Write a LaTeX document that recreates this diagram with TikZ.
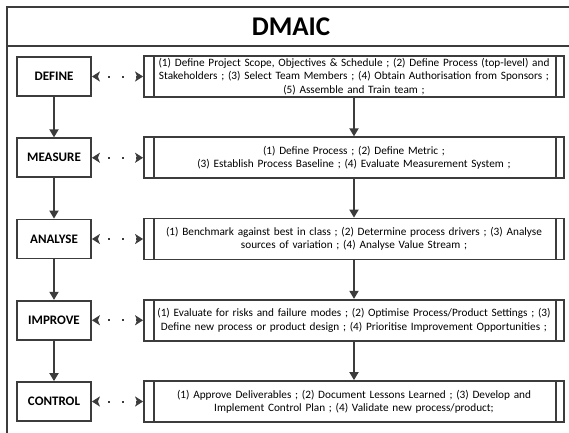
\documentclass[tikz,border=0pt]{standalone}
\usepackage{fontspec}
\setmainfont{Carlito}
\usetikzlibrary{arrows.meta}
\definecolor{ln}{HTML}{3C3C3C}
\begin{document}
\begin{tikzpicture}[x=1pt,y=-1pt,
  stagebox/.style={draw=ln, line width=1.8pt, minimum width=74pt, minimum height=39pt, font=\fontsize{13}{15}\selectfont\bfseries, inner sep=0pt},
  procbox/.style={draw=ln, line width=1.8pt, minimum width=420pt, minimum height=41pt, text width=400pt, align=center, font=\fontsize{11.25}{13.2}\selectfont, inner sep=0pt},
  procbar/.style={draw=ln, line width=1.8pt},
  flow/.style={draw=ln, line width=1.8pt, -{Triangle[length=8pt,width=9pt]}},
  dotlink/.style={draw=ln, line width=2pt, {Stealth[length=8pt,width=10pt,inset=2pt]}-{Stealth[length=8pt,width=10pt,inset=2pt]}, dash pattern=on 2pt off 12pt, dash phase=3pt},
  frame/.style={draw=ln, line width=1.8pt},
]
\useasboundingbox (0,0) rectangle (569,432);
\clip (0,0) rectangle (569,432);
\draw[frame] (7,7) rectangle (590,450);
\draw[frame] (7,46) -- (590,46);
\node[font=\fontsize{27}{30}\selectfont\bfseries] (title) at (291,26.5) {DMAIC};

\node[stagebox] (s1) at (54,76.5) {DEFINE};
\node[stagebox] (s2) at (54,157.75) {MEASURE};
\node[stagebox] (s3) at (54,239) {ANALYSE};
\node[stagebox] (s4) at (54,320.25) {IMPROVE};
\node[stagebox] (s5) at (54,401.5) {CONTROL};

\node[procbox] (p1) at (354,76.5) {(1) Define Project Scope, Objectives \& Schedule ; (2) Define Process (top-level) and\\Stakeholders ; (3) Select Team Members ; (4) Obtain Authorisation from Sponsors ;\\(5) Assemble and Train team ;};
\node[procbox] (p2) at (354,157.75) {(1) Define Process ; (2) Define Metric ;\\(3) Establish Process Baseline ; (4) Evaluate Measurement System ;};
\node[procbox] (p3) at (354,239) {(1) Benchmark against best in class ; (2) Determine process drivers ; (3) Analyse\\sources of variation ; (4) Analyse Value Stream ;};
\node[procbox] (p4) at (354,320.25) {(1) Evaluate for risks and failure modes ; (2) Optimise Process/Product Settings ; (3)\\Define new process or product design ; (4) Prioritise Improvement Opportunities ;};
\node[procbox] (p5) at (354,401.5) {(1) Approve Deliverables ; (2) Document Lessons Learned ; (3) Develop and\\Implement Control Plan ; (4) Validate new process/product;};

\foreach \p in {p1,p2,p3,p4,p5}{
  \draw[procbar] ([xshift=11pt]\p.north west) -- ([xshift=11pt]\p.south west);
  \draw[procbar] ([xshift=-9pt]\p.north east) -- ([xshift=-9pt]\p.south east);
}

\foreach \i in {1,...,5}{
  \draw[dotlink] (s\i.east) -- (p\i.west);
}
\foreach \i/\j in {1/2,2/3,3/4,4/5}{
  \draw[flow] (s\i.south) -- (s\j.north);
  \draw[flow] (p\i.south) -- (p\j.north);
}
\end{tikzpicture}
\end{document}
